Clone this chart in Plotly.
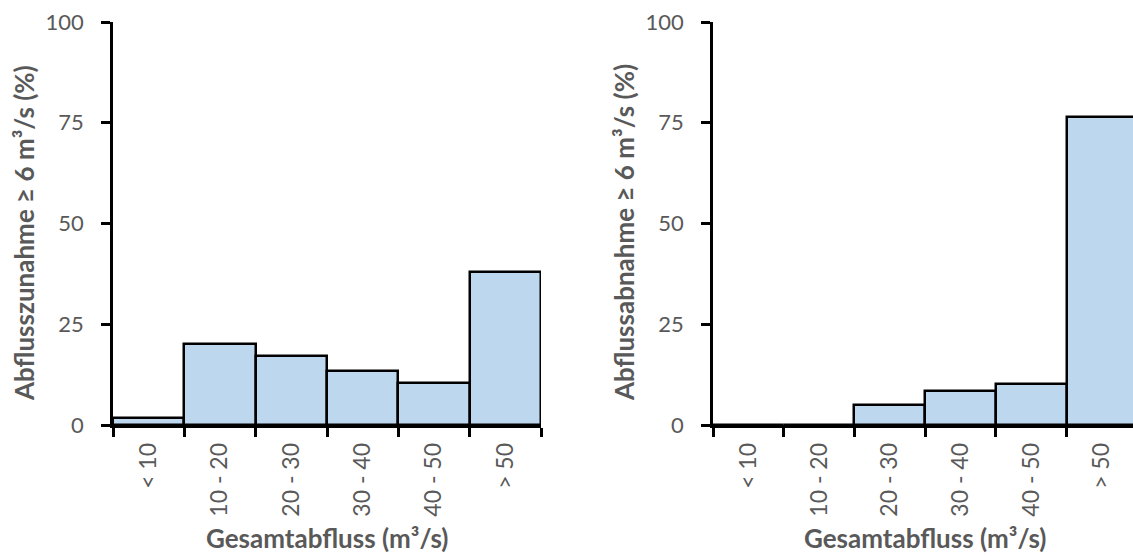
import plotly.graph_objects as go

categories = ["< 10", "10 - 20", "20 - 30", "30 - 40", "40 - 50", "> 50"]
zunahme = [1.7, 20.0, 17.0, 13.5, 10.5, 38.0]
abnahme = [0.0, 0.0, 5.0, 8.4, 10.1, 76.4]
y_ticks = [0, 25, 50, 75, 100]

W, H = 1133, 556
FONT = "Lato"
GRAY = "#595959"
FILL = "#BDD7EE"

def px_x(p):
    return p / W

def px_y(p):
    return 1 - p / H

fig = go.Figure()
fig.add_trace(go.Bar(x=categories, y=zunahme, xaxis="x", yaxis="y",
                     marker=dict(color=FILL, line=dict(color="black", width=2.5)),
                     showlegend=False))
fig.add_trace(go.Bar(x=categories, y=abnahme, xaxis="x2", yaxis="y2",
                     marker=dict(color=FILL, line=dict(color="black", width=2.5)),
                     showlegend=False))

ydom = [px_y(425), px_y(22)]
xcommon = dict(type="category", showline=True, linecolor="black", linewidth=2.5,
               ticks="outside", tickson="boundaries", ticklen=9, tickwidth=2.5,
               tickcolor="black", tickangle=-90, showgrid=False, zeroline=False,
               tickfont=dict(family=FONT, size=23, color=GRAY), automargin=False,
               ticklabelstandoff=6, fixedrange=True)
ycommon = dict(range=[0, 100], tickvals=y_ticks, showline=True, linecolor="black",
               linewidth=2.5, ticks="outside", ticklen=9, tickwidth=2.5, tickcolor="black",
               showgrid=False, zeroline=False, domain=ydom,
               tickfont=dict(family=FONT, size=22, color=GRAY), automargin=False,
               ticklabelstandoff=13)

fig.update_layout(
    width=W, height=H,
    margin=dict(l=0, r=0, t=0, b=0),
    paper_bgcolor="white", plot_bgcolor="white",
    bargap=0,
    xaxis=dict(domain=[px_x(113), px_x(541)], anchor="y", range=[-0.5, 5.5], **xcommon),
    yaxis=dict(anchor="x", **ycommon),
    xaxis2=dict(domain=[px_x(713), 1.0], anchor="y2", range=[-0.5, 5.44], **xcommon),
    yaxis2=dict(anchor="x2", **ycommon),
)

xt_font = dict(family=FONT, size=26, color=GRAY, weight="bold")
yt_font = dict(family=FONT, size=26, color=GRAY, weight="bold")
annos = [
    dict(text="Gesamtabfluss (m³/s)", x=px_x(327), y=px_y(538), font=xt_font),
    dict(text="Gesamtabfluss (m³/s)", x=px_x(925), y=px_y(538), font=xt_font),
    dict(text="Abflusszunahme ≥ 6 m³/s (%)", x=px_x(24), y=px_y(233), textangle=-90, font=yt_font),
    dict(text="Abflussabnahme ≥ 6 m³/s (%)", x=px_x(624), y=px_y(233), textangle=-90, font=yt_font),
]
for a in annos:
    fig.add_annotation(xref="paper", yref="paper", showarrow=False,
                       xanchor="center", yanchor="middle", **a)

fig.write_html("out.html")
